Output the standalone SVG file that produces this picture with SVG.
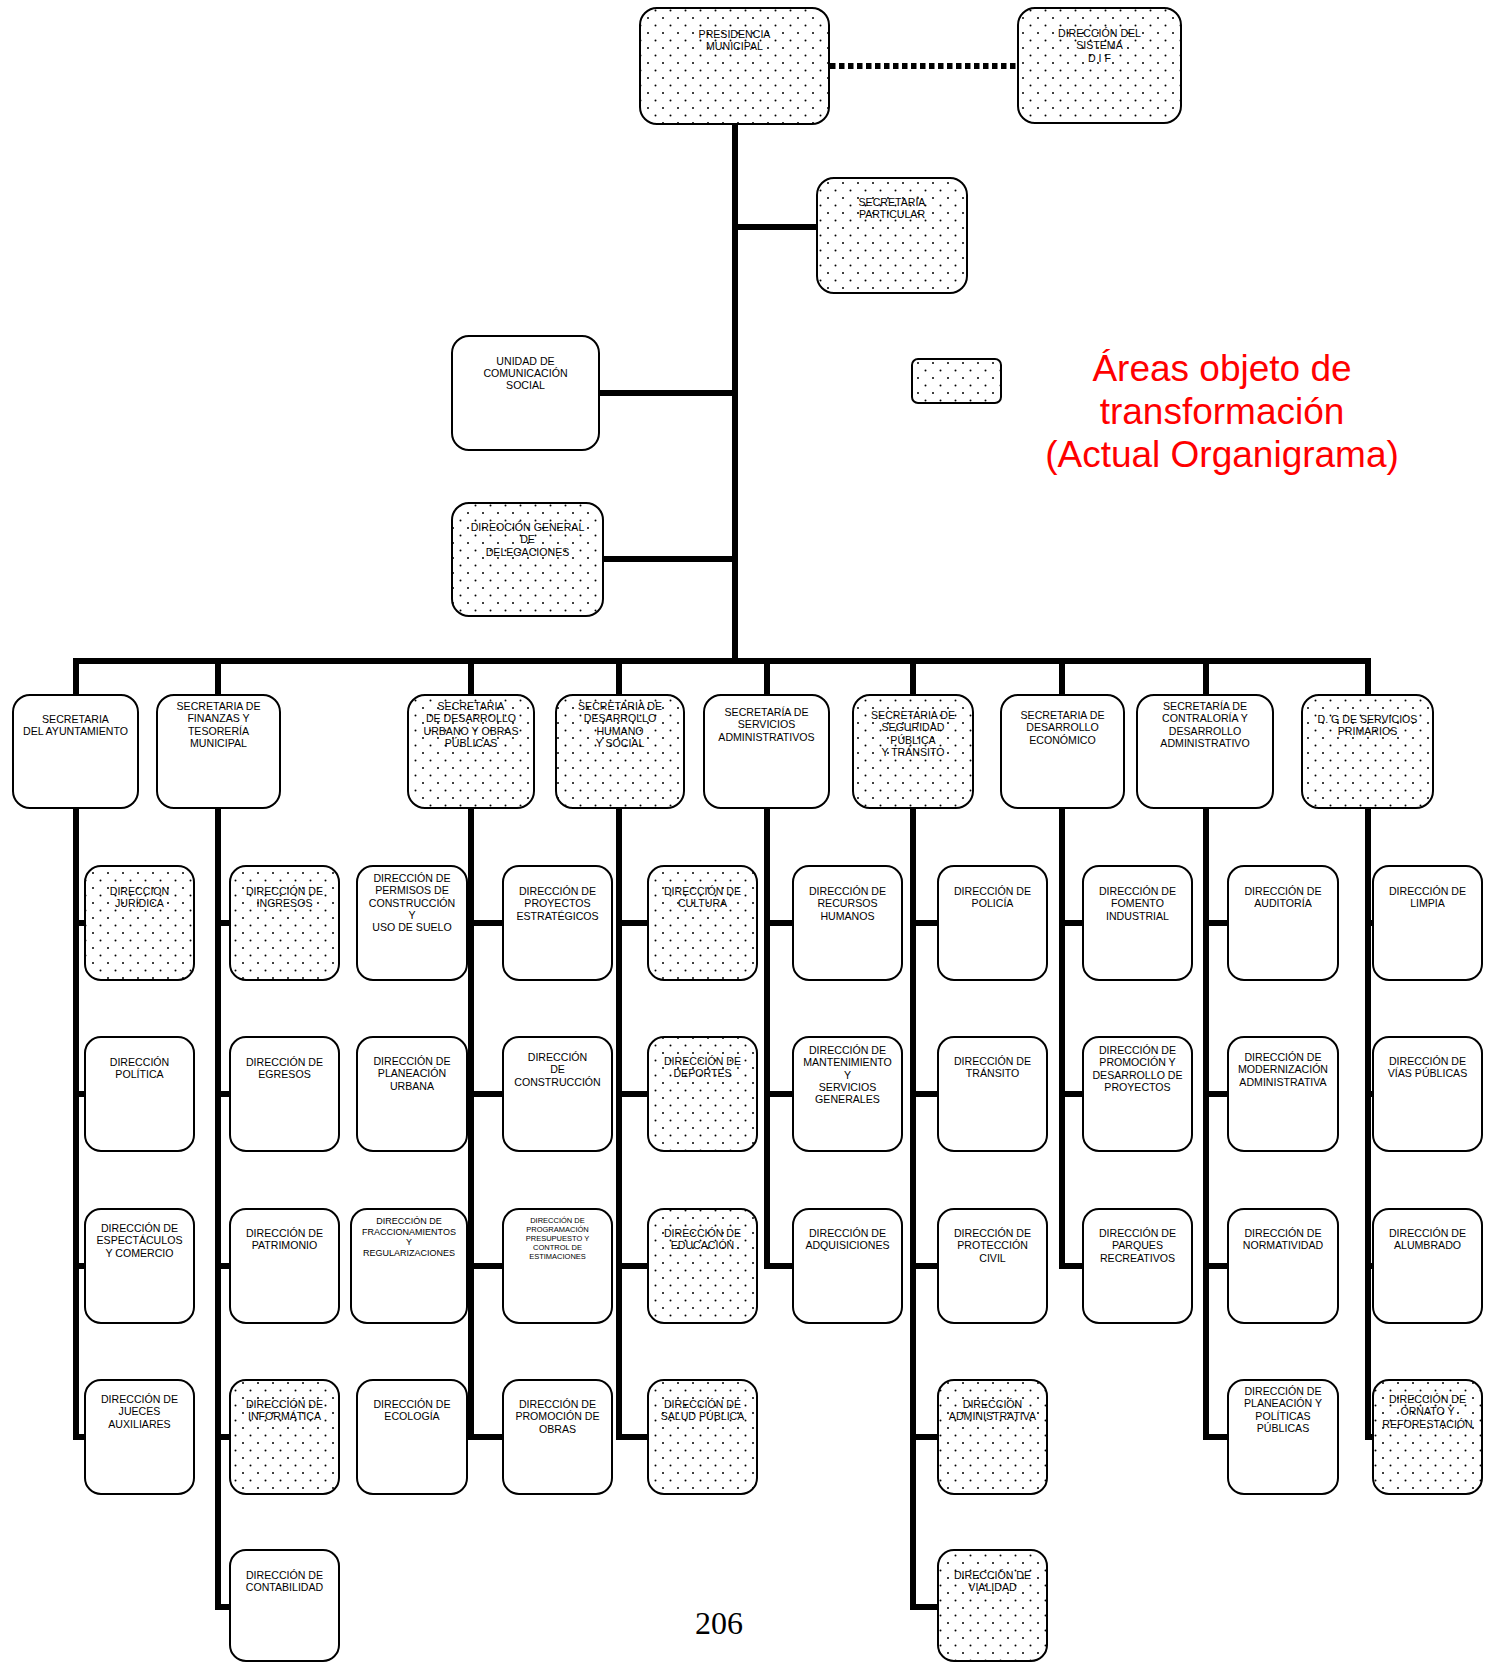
<svg xmlns="http://www.w3.org/2000/svg" width="1493" height="1663" viewBox="0 0 1493 1663">
<defs>
<pattern id="dots" patternUnits="userSpaceOnUse" width="15" height="15">
<rect width="15" height="15" fill="#fff"/>
<circle cx="3" cy="3" r="1" fill="#000"/>
<circle cx="10.5" cy="10.5" r="1" fill="#000"/>
</pattern>
</defs>
<style>
.b{fill:#fff;stroke:#000;stroke-width:2}
.d{fill:url(#dots);stroke:#000;stroke-width:2}
.t{font-family:"Liberation Sans",Arial,sans-serif;font-size:10.6px;fill:#000;text-anchor:middle}
.s{font-size:9px}
.xs{font-size:7.5px}
.c{fill:none;stroke:#000;stroke-width:6;stroke-linejoin:miter;stroke-linecap:butt}
.red{font-family:"Liberation Sans",Arial,sans-serif;font-size:37px;fill:#f00;text-anchor:middle}
</style>
<rect width="1493" height="1663" fill="#fff"/>

<g id="connectors">
<path class="c" d="M735,124 V661"/>
<path class="c" d="M73,661 H1371"/>
<path class="c" d="M76,661 V695 M218,661 V695 M471,661 V695 M619,661 V695 M767,661 V695 M913,661 V695 M1062,661 V695 M1206,661 V695 M1368,661 V695"/>
<path class="c" d="M735,227 H817 M599,393 H735 M603,559 H735"/>
<path fill="none" stroke="#000" stroke-width="6" stroke-dasharray="5.5 3.5" d="M830,66 H1018"/>
<path class="c" d="M76,808 V1437 H85 M76,923 H85 M76,1094 H85 M76,1266 H85"/>
<path class="c" d="M218,808 V1607 H230 M218,923 H230 M218,1094 H230 M218,1266 H230 M218,1437 H230"/>
<path class="c" d="M471,808 V1437 H503 M467,923 H503 M467,1094 H503 M467,1266 H503 M467,1437 H471"/>
<path class="c" d="M619,808 V1437 H648 M619,923 H648 M619,1094 H648 M619,1266 H648"/>
<path class="c" d="M767,808 V1266 H793 M767,923 H793 M767,1094 H793"/>
<path class="c" d="M913,808 V1607 H938 M913,923 H938 M913,1094 H938 M913,1266 H938 M913,1437 H938"/>
<path class="c" d="M1062,808 V1266 H1083 M1062,923 H1083 M1062,1094 H1083"/>
<path class="c" d="M1206,808 V1437 H1228 M1206,923 H1228 M1206,1094 H1228 M1206,1266 H1228"/>
<path class="c" d="M1368,808 V1437 H1373 M1368,923 H1373 M1368,1094 H1373 M1368,1266 H1373"/>
</g>

<g id="presidencia"><rect class="d" x="640" y="8" width="189" height="116" rx="17"/><text class="t" x="734.5" y="38">PRESIDENCIA<tspan x="734.5" dy="12.3">MUNICIPAL</tspan></text></g>
<g id="dif"><rect class="d" x="1018" y="8" width="163" height="115" rx="17"/><text class="t" x="1099.5" y="37">DIRECCIÓN DEL<tspan x="1099.5" dy="12.3">SISTEMA</tspan><tspan x="1099.5" dy="12.3">D I F</tspan></text></g>
<g id="particular"><rect class="d" x="817" y="178" width="150" height="115" rx="17"/><text class="t" x="892" y="206">SECRETARÍA<tspan x="892" dy="12.3">PARTICULAR</tspan></text></g>
<g id="comunicacion"><rect class="b" x="452" y="336" width="147" height="114" rx="17"/><text class="t" x="525.5" y="364.5">UNIDAD DE<tspan x="525.5" dy="12.3">COMUNICACIÓN</tspan><tspan x="525.5" dy="12.3">SOCIAL</tspan></text></g>
<g id="delegaciones"><rect class="d" x="452" y="503" width="151" height="113" rx="17"/><text class="t" x="527.5" y="531">DIREOCIÓN GENERAL<tspan x="527.5" dy="12.3">DE</tspan><tspan x="527.5" dy="12.3">DELEGACIONES</tspan></text></g>
<g id="leyenda"><rect class="d" x="912" y="359" width="89" height="44" rx="6"/></g>
<g id="titulo"><text class="red" x="1222" y="381">Áreas objeto de<tspan x="1222" dy="43">transformación</tspan><tspan x="1222" dy="43">(Actual Organigrama)</tspan></text></g>

<g id="s-ayuntamiento"><rect class="b" x="13" y="695" width="125" height="113" rx="17"/><text class="t" x="75.5" y="723">SECRETARIA<tspan x="75.5" dy="12.3">DEL AYUNTAMIENTO</tspan></text></g>
<g id="s-finanzas"><rect class="b" x="157" y="695" width="123" height="113" rx="17"/><text class="t" x="218.5" y="710">SECRETARIA DE<tspan x="218.5" dy="12.3">FINANZAS Y</tspan><tspan x="218.5" dy="12.3">TESORERÍA</tspan><tspan x="218.5" dy="12.3">MUNICIPAL</tspan></text></g>
<g id="s-urbano"><rect class="d" x="408" y="695" width="126" height="113" rx="17"/><text class="t" x="471" y="710">SECRETARIA<tspan x="471" dy="12.3">DE DESARROLLO</tspan><tspan x="471" dy="12.3">URBANO Y OBRAS</tspan><tspan x="471" dy="12.3">PÚBLICAS</tspan></text></g>
<g id="s-humano"><rect class="d" x="556" y="695" width="128" height="113" rx="17"/><text class="t" x="620" y="710">SECRETARIA DE<tspan x="620" dy="12.3">DESARROLLO</tspan><tspan x="620" dy="12.3">HUMANO</tspan><tspan x="620" dy="12.3">Y SOCIAL</tspan></text></g>
<g id="s-servicios"><rect class="b" x="704" y="695" width="125" height="113" rx="17"/><text class="t" x="766.5" y="716">SECRETARÍA DE<tspan x="766.5" dy="12.3">SERVICIOS</tspan><tspan x="766.5" dy="12.3">ADMINISTRATIVOS</tspan></text></g>
<g id="s-seguridad"><rect class="d" x="853" y="695" width="120" height="113" rx="17"/><text class="t" x="913" y="719">SECRETARIA DE<tspan x="913" dy="12.3">SEGURIDAD</tspan><tspan x="913" dy="12.3">PÚBLICA</tspan><tspan x="913" dy="12.3">Y TRÁNSITO</tspan></text></g>
<g id="s-economico"><rect class="b" x="1001" y="695" width="123" height="113" rx="17"/><text class="t" x="1062.5" y="719">SECRETARIA DE<tspan x="1062.5" dy="12.3">DESARROLLO</tspan><tspan x="1062.5" dy="12.3">ECONÓMICO</tspan></text></g>
<g id="s-contraloria"><rect class="b" x="1137" y="695" width="136" height="113" rx="17"/><text class="t" x="1205" y="710">SECRETARÍA DE<tspan x="1205" dy="12.3">CONTRALORÍA Y</tspan><tspan x="1205" dy="12.3">DESARROLLO</tspan><tspan x="1205" dy="12.3">ADMINISTRATIVO</tspan></text></g>
<g id="s-primarios"><rect class="d" x="1302" y="695" width="131" height="113" rx="17"/><text class="t" x="1367.5" y="723">D. G DE SERVICIOS<tspan x="1367.5" dy="12.3">PRIMARIOS</tspan></text></g>

<g id="d-juridica"><rect class="d" x="85" y="866" width="109" height="114" rx="16"/><text class="t" x="139.5" y="895">DIRECCION<tspan x="139.5" dy="12.3">JURÍDICA</tspan></text></g>
<g id="d-politica"><rect class="b" x="85" y="1037" width="109" height="114" rx="16"/><text class="t" x="139.5" y="1065.5">DIRECCIÓN<tspan x="139.5" dy="12.3">POLÍTICA</tspan></text></g>
<g id="d-espectaculos"><rect class="b" x="85" y="1209" width="109" height="114" rx="16"/><text class="t" x="139.5" y="1232">DIRECCIÓN DE<tspan x="139.5" dy="12.3">ESPECTÁCULOS</tspan><tspan x="139.5" dy="12.3">Y COMERCIO</tspan></text></g>
<g id="d-jueces"><rect class="b" x="85" y="1380" width="109" height="114" rx="16"/><text class="t" x="139.5" y="1403">DIRECCIÓN DE<tspan x="139.5" dy="12.3">JUECES</tspan><tspan x="139.5" dy="12.3">AUXILIARES</tspan></text></g>

<g id="d-ingresos"><rect class="d" x="230" y="866" width="109" height="114" rx="16"/><text class="t" x="284.5" y="895">DIRECCIÓN DE<tspan x="284.5" dy="12.3">INGRESOS</tspan></text></g>
<g id="d-egresos"><rect class="b" x="230" y="1037" width="109" height="114" rx="16"/><text class="t" x="284.5" y="1065.5">DIRECCIÓN DE<tspan x="284.5" dy="12.3">EGRESOS</tspan></text></g>
<g id="d-patrimonio"><rect class="b" x="230" y="1209" width="109" height="114" rx="16"/><text class="t" x="284.5" y="1237">DIRECCIÓN DE<tspan x="284.5" dy="12.3">PATRIMONIO</tspan></text></g>
<g id="d-informatica"><rect class="d" x="230" y="1380" width="109" height="114" rx="16"/><text class="t" x="284.5" y="1408">DIRECCIÓN DE<tspan x="284.5" dy="12.3">INFORMÁTICA</tspan></text></g>
<g id="d-contabilidad"><rect class="b" x="230" y="1550" width="109" height="111" rx="16"/><text class="t" x="284.5" y="1579">DIRECCIÓN DE<tspan x="284.5" dy="12.3">CONTABILIDAD</tspan></text></g>

<g id="d-permisos"><rect class="b" x="357" y="866" width="110" height="114" rx="16"/><text class="t" x="412" y="882">DIRECCIÓN DE<tspan x="412" dy="12.3">PERMISOS DE</tspan><tspan x="412" dy="12.3">CONSTRUCCIÓN</tspan><tspan x="412" dy="12.3">Y</tspan><tspan x="412" dy="12.3">USO DE SUELO</tspan></text></g>
<g id="d-planeacion-urbana"><rect class="b" x="357" y="1037" width="110" height="114" rx="16"/><text class="t" x="412" y="1065">DIRECCIÓN DE<tspan x="412" dy="12.3">PLANEACIÓN</tspan><tspan x="412" dy="12.3">URBANA</tspan></text></g>
<g id="d-fraccionamientos"><rect class="b" x="351" y="1209" width="116" height="114" rx="16"/><text class="t s" x="409" y="1224">DIRECCIÓN DE<tspan x="409" dy="10.6">FRACCIONAMIENTOS</tspan><tspan x="409" dy="10.6">Y</tspan><tspan x="409" dy="10.6">REGULARIZACIONES</tspan></text></g>
<g id="d-ecologia"><rect class="b" x="357" y="1380" width="110" height="114" rx="16"/><text class="t" x="412" y="1408">DIRECCIÓN DE<tspan x="412" dy="12.3">ECOLOGÍA</tspan></text></g>

<g id="d-proyectos"><rect class="b" x="503" y="866" width="109" height="114" rx="16"/><text class="t" x="557.5" y="895">DIRECCIÓN DE<tspan x="557.5" dy="12.3">PROYECTOS</tspan><tspan x="557.5" dy="12.3">ESTRATÉGICOS</tspan></text></g>
<g id="d-construccion"><rect class="b" x="503" y="1037" width="109" height="114" rx="16"/><text class="t" x="557.5" y="1061">DIRECCIÓN<tspan x="557.5" dy="12.3">DE</tspan><tspan x="557.5" dy="12.3">CONSTRUCCIÓN</tspan></text></g>
<g id="d-programacion"><rect class="b" x="503" y="1209" width="109" height="114" rx="16"/><text class="t xs" x="557.5" y="1222.5">DIRECCIÓN DE<tspan x="557.5" dy="9.2">PROGRAMACIÓN</tspan><tspan x="557.5" dy="9.2">PRESUPUESTO Y</tspan><tspan x="557.5" dy="9.2">CONTROL DE</tspan><tspan x="557.5" dy="9.2">ESTIMACIONES</tspan></text></g>
<g id="d-promocion-obras"><rect class="b" x="503" y="1380" width="109" height="114" rx="16"/><text class="t" x="557.5" y="1408">DIRECCIÓN DE<tspan x="557.5" dy="12.3">PROMOCIÓN DE</tspan><tspan x="557.5" dy="12.3">OBRAS</tspan></text></g>

<g id="d-cultura"><rect class="d" x="648" y="866" width="109" height="114" rx="16"/><text class="t" x="702.5" y="895">DIRECCIÓN DE<tspan x="702.5" dy="12.3">CULTURA</tspan></text></g>
<g id="d-deportes"><rect class="d" x="648" y="1037" width="109" height="114" rx="16"/><text class="t" x="702.5" y="1065">DIRECCIÓN DE<tspan x="702.5" dy="12.3">DEPORTES</tspan></text></g>
<g id="d-educacion"><rect class="d" x="648" y="1209" width="109" height="114" rx="16"/><text class="t" x="702.5" y="1237">DIRECCIÓN DE<tspan x="702.5" dy="12.3">EDUCACIÓN</tspan></text></g>
<g id="d-salud"><rect class="d" x="648" y="1380" width="109" height="114" rx="16"/><text class="t" x="702.5" y="1408">DIRECCIÓN DE<tspan x="702.5" dy="12.3">SALUD PÚBLICA</tspan></text></g>

<g id="d-rh"><rect class="b" x="793" y="866" width="109" height="114" rx="16"/><text class="t" x="847.5" y="895">DIRECCIÓN DE<tspan x="847.5" dy="12.3">RECURSOS</tspan><tspan x="847.5" dy="12.3">HUMANOS</tspan></text></g>
<g id="d-mantenimiento"><rect class="b" x="793" y="1037" width="109" height="114" rx="16"/><text class="t" x="847.5" y="1054">DIRECCIÓN DE<tspan x="847.5" dy="12.3">MANTENIMIENTO</tspan><tspan x="847.5" dy="12.3">Y</tspan><tspan x="847.5" dy="12.3">SERVICIOS</tspan><tspan x="847.5" dy="12.3">GENERALES</tspan></text></g>
<g id="d-adquisiciones"><rect class="b" x="793" y="1209" width="109" height="114" rx="16"/><text class="t" x="847.5" y="1237">DIRECCIÓN DE<tspan x="847.5" dy="12.3">ADQUISICIONES</tspan></text></g>

<g id="d-policia"><rect class="b" x="938" y="866" width="109" height="114" rx="16"/><text class="t" x="992.5" y="895">DIRECCIÓN DE<tspan x="992.5" dy="12.3">POLICÍA</tspan></text></g>
<g id="d-transito"><rect class="b" x="938" y="1037" width="109" height="114" rx="16"/><text class="t" x="992.5" y="1065">DIRECCIÓN DE<tspan x="992.5" dy="12.3">TRÁNSITO</tspan></text></g>
<g id="d-proteccion"><rect class="b" x="938" y="1209" width="109" height="114" rx="16"/><text class="t" x="992.5" y="1237">DIRECCIÓN DE<tspan x="992.5" dy="12.3">PROTECCIÓN</tspan><tspan x="992.5" dy="12.3">CIVIL</tspan></text></g>
<g id="d-administrativa"><rect class="d" x="938" y="1380" width="109" height="114" rx="16"/><text class="t" x="992.5" y="1408">DIRECCIÓN<tspan x="992.5" dy="12.3">ADMINISTRATIVA</tspan></text></g>
<g id="d-vialidad"><rect class="d" x="938" y="1550" width="109" height="111" rx="16"/><text class="t" x="992.5" y="1579">DIRECCIÓN DE<tspan x="992.5" dy="12.3">VIALIDAD</tspan></text></g>

<g id="d-fomento"><rect class="b" x="1083" y="866" width="109" height="114" rx="16"/><text class="t" x="1137.5" y="895">DIRECCIÓN DE<tspan x="1137.5" dy="12.3">FOMENTO</tspan><tspan x="1137.5" dy="12.3">INDUSTRIAL</tspan></text></g>
<g id="d-promocion-desarrollo"><rect class="b" x="1083" y="1037" width="109" height="114" rx="16"/><text class="t" x="1137.5" y="1054">DIRECCIÓN DE<tspan x="1137.5" dy="12.3">PROMOCIÓN Y</tspan><tspan x="1137.5" dy="12.3">DESARROLLO DE</tspan><tspan x="1137.5" dy="12.3">PROYECTOS</tspan></text></g>
<g id="d-parques"><rect class="b" x="1083" y="1209" width="109" height="114" rx="16"/><text class="t" x="1137.5" y="1237">DIRECCIÓN DE<tspan x="1137.5" dy="12.3">PARQUES</tspan><tspan x="1137.5" dy="12.3">RECREATIVOS</tspan></text></g>

<g id="d-auditoria"><rect class="b" x="1228" y="866" width="110" height="114" rx="16"/><text class="t" x="1283" y="895">DIRECCIÓN DE<tspan x="1283" dy="12.3">AUDITORÍA</tspan></text></g>
<g id="d-modernizacion"><rect class="b" x="1228" y="1037" width="110" height="114" rx="16"/><text class="t" x="1283" y="1061">DIRECCIÓN DE<tspan x="1283" dy="12.3">MODERNIZACIÓN</tspan><tspan x="1283" dy="12.3">ADMINISTRATIVA</tspan></text></g>
<g id="d-normatividad"><rect class="b" x="1228" y="1209" width="110" height="114" rx="16"/><text class="t" x="1283" y="1237">DIRECCIÓN DE<tspan x="1283" dy="12.3">NORMATIVIDAD</tspan></text></g>
<g id="d-planeacion-politicas"><rect class="b" x="1228" y="1380" width="110" height="114" rx="16"/><text class="t" x="1283" y="1395">DIRECCIÓN DE<tspan x="1283" dy="12.3">PLANEACIÓN Y</tspan><tspan x="1283" dy="12.3">POLÍTICAS</tspan><tspan x="1283" dy="12.3">PÚBLICAS</tspan></text></g>

<g id="d-limpia"><rect class="b" x="1373" y="866" width="109" height="114" rx="16"/><text class="t" x="1427.5" y="895">DIRECCIÓN DE<tspan x="1427.5" dy="12.3">LIMPIA</tspan></text></g>
<g id="d-vias"><rect class="b" x="1373" y="1037" width="109" height="114" rx="16"/><text class="t" x="1427.5" y="1065">DIRECCIÓN DE<tspan x="1427.5" dy="12.3">VÍAS PÚBLICAS</tspan></text></g>
<g id="d-alumbrado"><rect class="b" x="1373" y="1209" width="109" height="114" rx="16"/><text class="t" x="1427.5" y="1237">DIRECCIÓN DE<tspan x="1427.5" dy="12.3">ALUMBRADO</tspan></text></g>
<g id="d-ornato"><rect class="d" x="1373" y="1380" width="109" height="114" rx="16"/><text class="t" x="1427.5" y="1403">DIRECCIÓN DE<tspan x="1427.5" dy="12.3">ORNATO Y</tspan><tspan x="1427.5" dy="12.3">REFORESTACIÓN</tspan></text></g>

<text x="719" y="1634" font-family="'Liberation Serif','Times New Roman',serif" font-size="32" text-anchor="middle" fill="#000">206</text>
</svg>
